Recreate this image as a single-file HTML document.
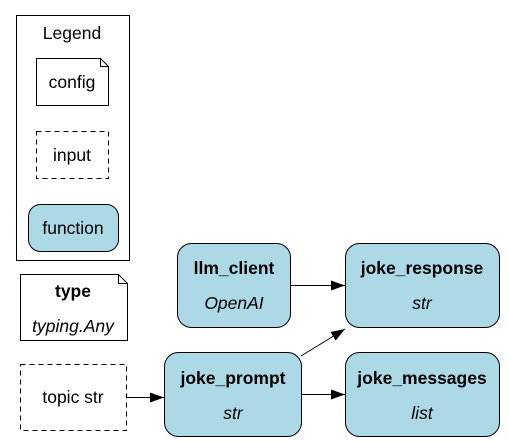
<!DOCTYPE html>
<html><head><meta charset="utf-8"><style>
html,body{margin:0;padding:0;background:#fff;}
svg{display:block;font-family:"Liberation Sans",Arial,sans-serif;}
</style></head><body>
<svg width="509" height="442" viewBox="0 0 509 442" xmlns="http://www.w3.org/2000/svg">
<defs><marker id="a" markerWidth="14" markerHeight="10" refX="14" refY="5" orient="auto" markerUnits="userSpaceOnUse"><path d="M0,0 L14,5 L0,10 z" fill="#000"/></marker></defs>
<g font-size="17.5">
<rect x="16.5" y="15.5" width="113" height="245" fill="#fff" stroke="#000"/>
<text x="72" y="39" text-anchor="middle">Legend</text>
<path d="M36.5,58.5 H100.5 L108.5,66.5 V105.5 H36.5 Z M100.5,58.5 V66.5 H108.5" fill="#fff" stroke="#000"/>
<text x="72" y="88" text-anchor="middle">config</text>
<rect x="36.5" y="131.5" width="72" height="47" fill="#fff" stroke="#000" stroke-dasharray="5,4"/>
<text x="72" y="161" text-anchor="middle">input</text>
<rect x="28.5" y="204.5" width="90" height="47" rx="12" fill="#add8e6" stroke="#000"/>
<text x="73" y="234" text-anchor="middle">function</text>
<path d="M20.5,274.5 H118.5 L127.5,283.5 V340.5 H20.5 Z M118.5,274.5 V283.5 H127.5" fill="#fff" stroke="#000"/>
<text x="73" y="297" font-weight="bold" text-anchor="middle">type</text>
<text x="73" y="332" font-style="italic" text-anchor="middle">typing.Any</text>
<rect x="20.5" y="364.5" width="106" height="66" fill="#fff" stroke="#000" stroke-dasharray="5,4"/>
<text x="73" y="403" text-anchor="middle">topic str</text>
<rect x="177.5" y="243.5" width="113" height="84" rx="14" fill="#add8e6" stroke="#000"/>
<text x="234" y="274" font-weight="bold" text-anchor="middle">llm_client</text>
<text x="234" y="309" font-style="italic" text-anchor="middle">OpenAI</text>
<rect x="345.5" y="243.5" width="154" height="84" rx="14" fill="#add8e6" stroke="#000"/>
<text x="422" y="274" font-weight="bold" text-anchor="middle">joke_response</text>
<text x="422" y="309" font-style="italic" text-anchor="middle">str</text>
<rect x="164.5" y="352.5" width="137" height="84" rx="14" fill="#add8e6" stroke="#000"/>
<text x="233" y="384" font-weight="bold" text-anchor="middle">joke_prompt</text>
<text x="233" y="419" font-style="italic" text-anchor="middle">str</text>
<rect x="345.5" y="352.5" width="154" height="84" rx="14" fill="#add8e6" stroke="#000"/>
<text x="422" y="384" font-weight="bold" text-anchor="middle">joke_messages</text>
<text x="422" y="419" font-style="italic" text-anchor="middle">list</text>
</g>
<g stroke="#000" stroke-width="1" fill="none" marker-end="url(#a)">
<line x1="290" y1="285.5" x2="345" y2="285.5"/>
<line x1="301" y1="356" x2="345" y2="329"/>
<line x1="301" y1="394.5" x2="345" y2="394.5"/>
<line x1="126" y1="397.5" x2="164" y2="397.5"/>
</g>
</svg>
</body></html>
